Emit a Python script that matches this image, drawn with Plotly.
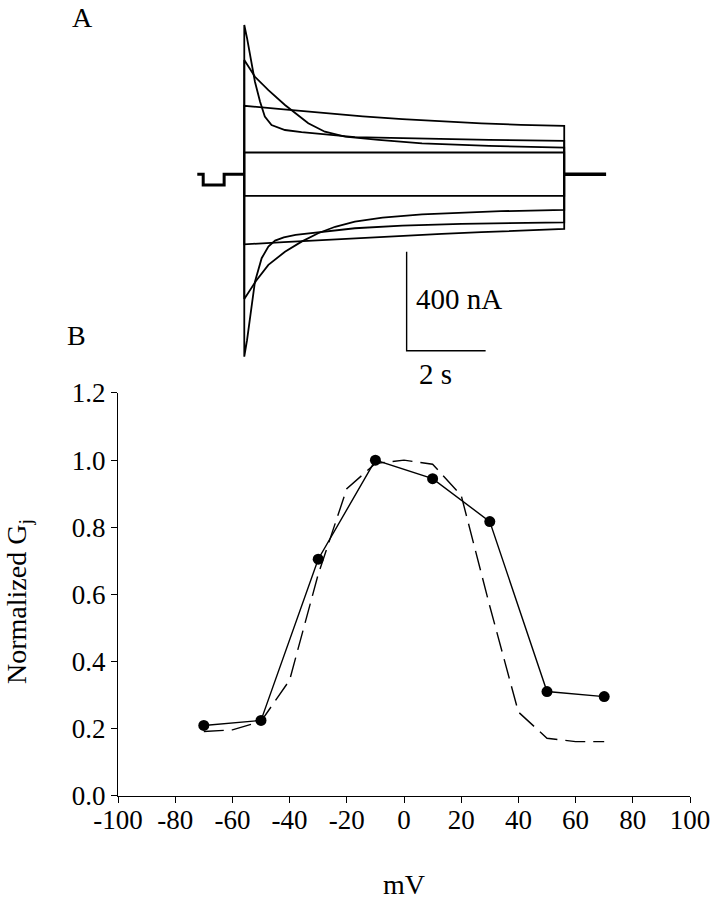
import plotly.graph_objects as go

# ---------------- Panel B data ----------------
mv = [-70, -50, -30, -10, 10, 30, 50, 70]
gj_measured = [0.210, 0.225, 0.705, 1.000, 0.945, 0.817, 0.311, 0.296]
mv_fit = [-70, -60, -50, -40, -30, -20, -10, 0, 10, 20, 30, 40, 50, 60, 70]
gj_fit = [0.192, 0.197, 0.222, 0.345, 0.660, 0.915, 0.990, 1.000, 0.988, 0.895,
          0.565, 0.250, 0.172, 0.162, 0.162]
x_ticks = [-100, -80, -60, -40, -20, 0, 20, 40, 60, 80, 100]
x_ticktext = ["-100", "-80", "-60", "-40", "-20", "0", "20", "40", "60", "80", "100"]
y_ticks = [0.0, 0.2, 0.4, 0.6, 0.8, 1.0, 1.2]
y_ticktext = ["0.0", "0.2", "0.4", "0.6", "0.8", "1.0", "1.2"]

# ---------------- Panel A data (time s, current nA) ----------------
hold_t = [-1.19, -1.04, -1.04, -0.51, -0.51, 0.0]
hold_i = [0, 0, -43, -43, 0, 0]
tail_t = [8.1, 8.35, 9.16]
tail_i = [0, 0, 0]

up_fast_t = [0, 0.07, 0.14, 0.27, 0.40, 0.52, 0.69, 1.03, 1.45, 2.3, 2.8, 3.7, 4.5, 6.2, 8.1]
up_fast_i = [603, 550, 482, 374, 293, 233, 199, 179, 170, 156, 150, 147, 144, 139, 135]
up_slow_t = [0, 0.27, 0.61, 1.03, 1.24, 1.62, 2.04, 2.55, 3.4, 4.5, 6.2, 8.1]
up_slow_i = [462, 394, 340, 280, 253, 206, 172, 152, 139, 125, 114.5, 108]
up_lin_t = [0, 1, 2, 3, 4, 5, 6, 7, 8.1]
up_lin_i = [277, 262, 247, 234, 223, 214, 206, 200, 196]
up_flat_t = [0, 8.1]
up_flat_i = [88, 88]
dn_flat_t = [0, 8.1]
dn_flat_i = [-87, -87]
dn_lin_t = [0, 1, 2, 3, 4, 5, 6, 7, 8.1]
dn_lin_i = [-283, -274, -265, -257, -249, -241, -234, -227, -221]
dn_fast_t = [0, 0.07, 0.14, 0.27, 0.44, 0.61, 0.78, 1.0, 1.3, 1.9, 2.8, 4.0, 5.5, 8.1]
dn_fast_i = [-737, -670, -582, -434, -339, -292, -268, -255, -245, -233, -218, -207, -200, -194]
dn_slow_t = [0, 0.3, 0.61, 1.03, 1.45, 1.87, 2.3, 2.8, 3.5, 4.5, 5.5, 6.5, 8.1]
dn_slow_i = [-504, -430, -366, -313, -272, -238, -212, -191, -175, -162, -154, -149, -144]

scale_s = 2      # seconds
scale_na = 400   # nA

FONT = "Liberation Serif"
fig = go.Figure()

# ---- Panel A traces ----
fig.add_trace(go.Scatter(x=hold_t, y=hold_i, mode="lines", xaxis="x2", yaxis="y2",
                         line=dict(color="black", width=3), showlegend=False))
fig.add_trace(go.Scatter(x=tail_t, y=tail_i, mode="lines", xaxis="x2", yaxis="y2",
                         line=dict(color="black", width=3.5), showlegend=False))

for tt, ii in [(up_fast_t, up_fast_i), (up_slow_t, up_slow_i), (up_lin_t, up_lin_i),
               (up_flat_t, up_flat_i), (dn_flat_t, dn_flat_i), (dn_lin_t, dn_lin_i),
               (dn_fast_t, dn_fast_i), (dn_slow_t, dn_slow_i)]:
    xs = [tt[0]] + list(tt) + [tt[-1]]
    ys = [0] + list(ii) + [0]
    fig.add_trace(go.Scatter(x=xs, y=ys, mode="lines", xaxis="x2", yaxis="y2",
                             line=dict(color="black", width=1.8), showlegend=False))

# scale bar
sb_t0 = 4.11
sb_i0 = -712.7
fig.add_trace(go.Scatter(x=[sb_t0, sb_t0, sb_t0 + scale_s], y=[sb_i0 + scale_na, sb_i0, sb_i0],
                         mode="lines", xaxis="x2", yaxis="y2",
                         line=dict(color="black", width=1.4), showlegend=False))

# ---- Panel B traces ----
fig.add_trace(go.Scatter(x=mv_fit, y=gj_fit, mode="lines",
                         line=dict(color="black", width=1.4, dash="20px,8px"), showlegend=False))
fig.add_trace(go.Scatter(x=mv, y=gj_measured, mode="lines+markers",
                         line=dict(color="black", width=1.4),
                         marker=dict(color="black", size=11), showlegend=False))

annotations = [
    dict(text="A", x=-0.0629, y=0.9774, xref="paper", yref="paper", xanchor="center",
         yanchor="middle", showarrow=False, font=dict(family=FONT, size=28, color="black")),
    dict(text="B", x=-0.0717, y=0.5779, xref="paper", yref="paper", xanchor="center",
         yanchor="middle", showarrow=False, font=dict(family=FONT, size=28, color="black")),
    dict(text=f"{scale_na} nA", x=4.296, y=-503.8, xref="x2", yref="y2",
         xanchor="left", yanchor="middle", showarrow=False,
         font=dict(family=FONT, size=29, color="black")),
    dict(text=f"{scale_s} s", x=4.385, y=-806.9, xref="x2", yref="y2",
         xanchor="left", yanchor="middle", showarrow=False,
         font=dict(family=FONT, size=29, color="black")),
    dict(text="mV", x=0.5, y=-0.111, xref="paper", yref="paper", xanchor="center",
         yanchor="middle", showarrow=False, font=dict(family=FONT, size=28, color="black")),
    dict(text="Normalized G<sub>j</sub>", x=-0.1731, y=0.245, xref="paper", yref="paper",
         xanchor="center", yanchor="middle", textangle=-90, showarrow=False,
         font=dict(family=FONT, size=28, color="black")),
]

axis_common = dict(ticks="outside", ticklen=6, tickwidth=1, tickcolor="black",
                   showline=True, linecolor="black", linewidth=1, showgrid=False,
                   zeroline=False, automargin=False,
                   tickfont=dict(family=FONT, size=27, color="black"))

fig.update_layout(
    template="none",
    width=717, height=900,
    margin=dict(l=118, r=27, t=0, b=104, autoexpand=False),
    paper_bgcolor="white", plot_bgcolor="white",
    font=dict(family=FONT, color="black"),
    annotations=annotations,
    showlegend=False,
    xaxis=dict(domain=[0, 1], range=[-100, 100], tickvals=x_ticks, ticktext=x_ticktext,
               anchor="y", ticklabelstandoff=-6, **axis_common),
    yaxis=dict(domain=[0, 0.5063], range=[0, 1.2], tickvals=y_ticks, ticktext=y_ticktext,
               anchor="x", **axis_common),
    xaxis2=dict(domain=[0, 1], range=[-3.197, 11.284], anchor="y2", visible=False),
    yaxis2=dict(domain=[0.53, 1], range=[-807.3, 704.2], anchor="x2", visible=False),
)

fig.write_html("out.html",
               config={"displayModeBar": False},
               post_script="document.body.style.margin='0';document.body.style.overflow='hidden';")
